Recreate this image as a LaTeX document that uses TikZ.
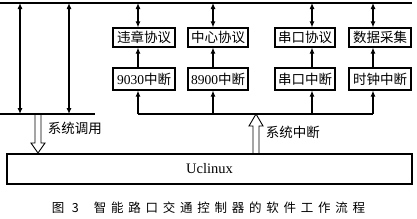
\documentclass[tikz,border=0pt]{standalone}
\usepackage{fontspec}
\setmainfont{Liberation Serif}
\newfontfamily\cjk{Noto Sans CJK SC}
\newfontfamily\cjkcap[LetterSpace=38]{Noto Sans CJK SC}
\usetikzlibrary{arrows.meta}

\begin{document}
\begin{tikzpicture}[x=1pt,y=-1pt,line width=1.1pt,
    box/.style={draw,inner sep=0pt,font=\cjk\fontsize{13.5}{15}\selectfont},
    arr/.style={-{Latex[length=6pt,width=5pt]}},
    darr/.style={{Latex[length=6pt,width=5pt]}-{Latex[length=6pt,width=5pt]}}]
  \useasboundingbox (0,0) rectangle (417,218);
  % bus lines, top and bottom
  \coordinate (topL) at (0,3);
  \coordinate (topR) at (412,3);
  \draw (topL) -- (topR);
  \coordinate (botL) at (0,114);
  \coordinate (botM) at (95,114);
  \draw (botL) -- (botM);
  % protocol row and interrupt row
  \node[box,minimum width=62,minimum height=19] (p1) at (144,37.5) {违章协议};
  \node[box,minimum width=60,minimum height=19] (p2) at (218,37.5) {中心协议};
  \node[box,minimum width=60,minimum height=19] (p3) at (305,37.5) {串口协议};
  \node[box,minimum width=62,minimum height=19] (p4) at (380,37.5) {数据采集};
  \node[box,minimum width=62,minimum height=22] (i1) at (144,79) {{\rmfamily 9030}中断};
  \node[box,minimum width=60,minimum height=22] (i2) at (218,79) {{\rmfamily 8900}中断};
  \node[box,minimum width=60,minimum height=22] (i3) at (305,79) {串口中断};
  \node[box,minimum width=62,minimum height=22] (i4) at (380,79) {时钟中断};
  \foreach \x/\n in {138/1,213/2,312/3,373/4} {
    \coordinate (b\n) at (\x,114);
    \draw[arr] (b\n) -- (b\n |- i\n.south);
    \draw[arr] (b\n |- i\n.north) -- (b\n |- p\n.south);
    \draw[darr] (b\n |- p\n.north) -- (b\n |- topL);
  }
  \draw (b1) -- (b4);
  % left side, x=20 and x=69
  \coordinate (l1) at (20,3);
  \coordinate (l2) at (69,3);
  \draw[darr] (l1) -- (l1 |- botL);
  \draw[darr] (l2) -- (l2 |- botL);
  \node[draw,minimum width=405,minimum height=30,
    font=\fontsize{14.5}{16}\selectfont] (os) at (209.5,169) {Uclinux};
  % hollow arrows
  \coordinate (ha) at (38,114);
  \draw[line width=0.9pt] (ha) ++(-3,0) -- ++(0,29) -- ++(-4,0) -- ++(7,10)
    -- ++(7,-10) -- ++(-4,0) -- ++(0,-29);
  \coordinate (hb) at (256,154);
  \draw[line width=0.9pt] (hb) ++(-3,0) -- ++(0,-28) -- ++(-4,0) -- ++(7,-12)
    -- ++(7,12) -- ++(-4,0) -- ++(0,28);
  \node[font=\cjk\fontsize{13.5}{15}\selectfont,anchor=west] (call) at (44,128) {系统调用};
  \node[font=\cjk\fontsize{13.5}{15}\selectfont,anchor=west] (irq) at (262,132) {系统中断};
  \node[font=\cjkcap\fontsize{12.5}{14}\selectfont] (cap) at (208.5,208)
    {图 3\ \ 智能路口交通控制器的软件工作流程};
\end{tikzpicture}
\end{document}
